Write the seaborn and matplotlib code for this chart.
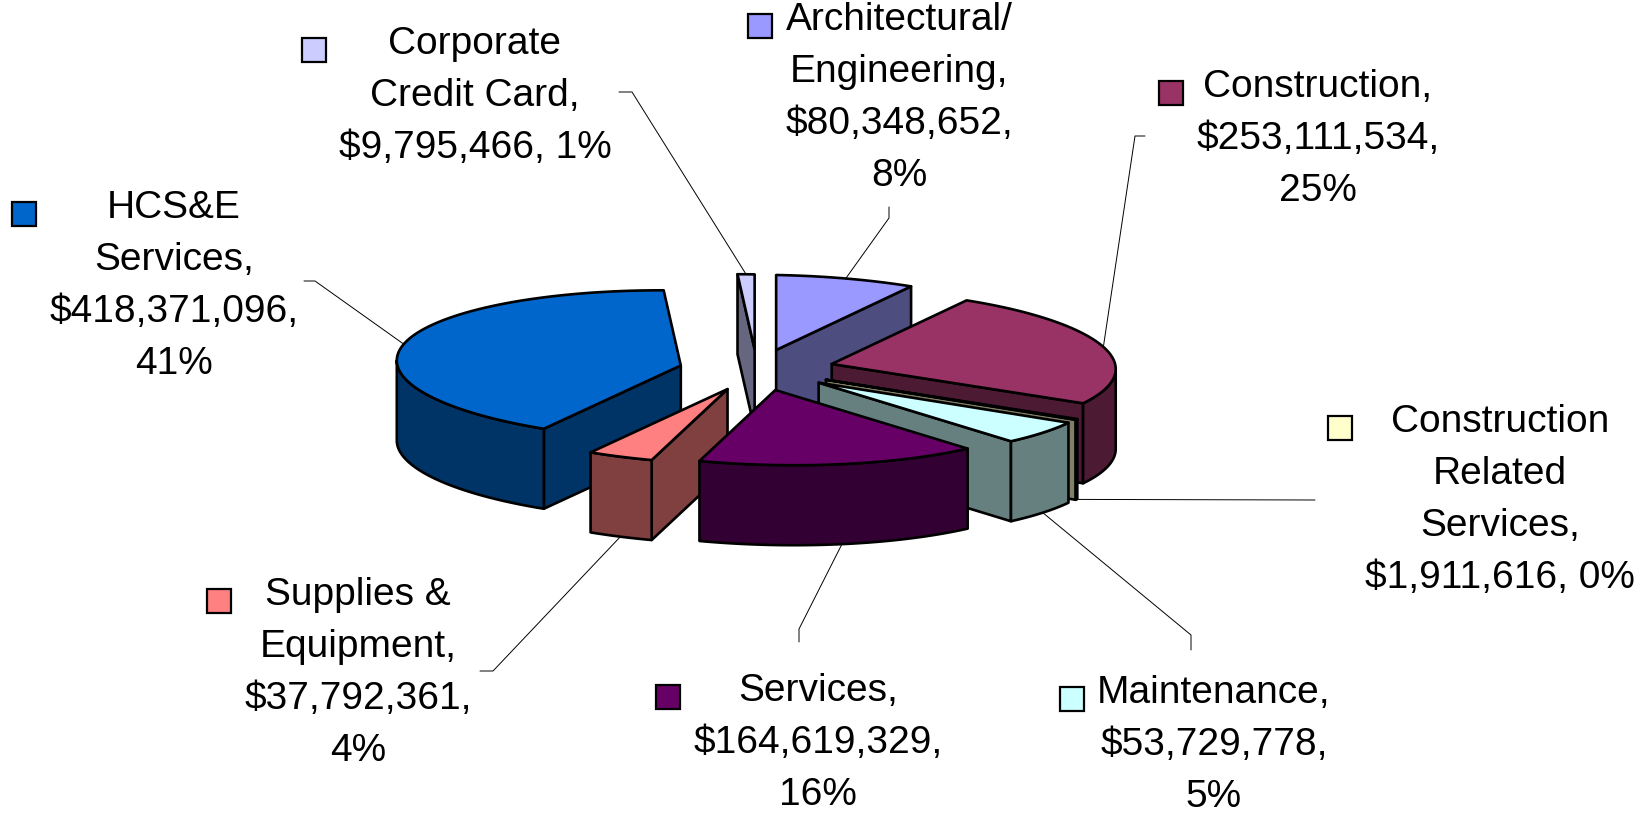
import numpy as np
import matplotlib
matplotlib.use("Agg")
import matplotlib.pyplot as plt
from matplotlib.patches import Polygon, Rectangle
import seaborn as sns

# ---------------- data ----------------
categories = ["Architectural/\nEngineering", "Construction", "Construction\nRelated\nServices",
              "Maintenance", "Services", "Supplies &\nEquipment", "HCS&E\nServices",
              "Corporate\nCredit Card"]
values = [80348652, 253111534, 1911616, 53729778, 164619329, 37792361, 418371096, 9795466]
top_colors = ["#9999FF", "#993366", "#FFFFCC", "#CCFFFF", "#660066", "#FF8080", "#0066CC", "#CCCCFF"]
side_colors = ["#4D4D80", "#4D1A33", "#808066", "#668080", "#330033", "#804040", "#003366", "#666680"]
value_sep = [",\n", ",\n", ", ", ",\n", ",\n", ",\n", ",\n", ", "]

# ---------------- layout (pixels of the 1645x817 canvas) ----------------
W, H = 1645, 817
CX, CY, RX, RY, DEPTH, EXPL, TILT = 757, 370, 284, 75, 80, 0.275, 5
label_centers = [(899, 98), (1318, 139), (1500, 500), (1214, 745), (818, 743),
                 (358, 673), (174, 286), (475, 96)]
leader_starts = [[(889, 207), (889, 218)], [(1145, 136), (1135, 136)], [(1315, 500)],
                 [(1191, 650), (1191, 635)], [(799, 642), (799, 629)],
                 [(480, 671), (493, 671)], [(304, 281), (315, 281)], [(619, 92), (632, 92)]]

sns.set_theme(style="white")
plt.rcParams["font.family"] = ["Liberation Sans", "DejaVu Sans"]

fig = plt.figure(figsize=(W / 100, H / 100), dpi=100)
ax = fig.add_axes([0, 0, 1, 1])
ax.set_xlim(0, W)
ax.set_ylim(H, 0)
ax.axis("off")

vals = np.array(values, dtype=float)
fracs = vals / vals.sum()
ends = np.cumsum(fracs) * 360.0
starts = ends - fracs * 360.0
mids = (starts + ends) / 2


def rim(ox, oy, ang, dz=0.0):
    r = np.radians(ang)
    return ox + RX * np.sin(r), oy - RY * np.cos(r) + TILT * np.sin(r) + dz


apexes = []
for i in range(len(vals)):
    m = np.radians(mids[i])
    apexes.append((CX + EXPL * RX * np.sin(m), CY - EXPL * RY * np.cos(m)))

order = np.argsort(-np.cos(np.radians(mids)))
z = 2
edge_kw = dict(edgecolor="black", linewidth=1.9, joinstyle="round")
for i in order:
    a0, a1 = starts[i], ends[i]
    ox, oy = apexes[i]
    # radial walls
    for a, vis in ((a0, np.sin(np.radians(a0)) < 0), (a1, np.sin(np.radians(a1)) > 0)):
        if vis:
            rx, ry = rim(ox, oy, a)
            poly = [(ox, oy), (rx, ry), (rx, ry + DEPTH), (ox, oy + DEPTH)]
            ax.add_patch(Polygon(poly, closed=True, facecolor=side_colors[i], zorder=z, **edge_kw))
            z += 1
    # outer wall (front part)
    lo, hi = max(a0, 90.0), min(a1, 270.0)
    if hi > lo:
        angs = np.linspace(lo, hi, max(3, int(hi - lo) + 2))
        topp = [rim(ox, oy, a) for a in angs]
        bot = [rim(ox, oy, a, DEPTH) for a in angs[::-1]]
        ax.add_patch(Polygon(topp + bot, closed=True, facecolor=side_colors[i], zorder=z, **edge_kw))
        z += 1
    # top face
    angs = np.linspace(a0, a1, max(3, int(a1 - a0) + 2))
    poly = [(ox, oy)] + [rim(ox, oy, a) for a in angs]
    ax.add_patch(Polygon(poly, closed=True, facecolor=top_colors[i], zorder=z, **edge_kw))
    z += 1

# leader lines
for i in range(len(vals)):
    ox, oy = apexes[i]
    front = -np.cos(np.radians(mids[i])) > 0
    ex, ey = rim(ox, oy, mids[i], DEPTH if front else 0.0)
    pts = leader_starts[i] + [(ex, ey)]
    xs, ys = zip(*pts)
    ax.plot(xs, ys, color="black", linewidth=0.7, zorder=1)

# labels
texts = []
for i in range(len(vals)):
    pct = int(round(fracs[i] * 100))
    lab = f"{categories[i]},\n${values[i]:,}{value_sep[i]}{pct}%"
    t = ax.text(label_centers[i][0], label_centers[i][1], lab, ha="center", va="center",
                multialignment="center", fontsize=28, linespacing=1.56, color="black",
                zorder=50)
    texts.append(t)

fig.canvas.draw()
renderer = fig.canvas.get_renderer()
inv = ax.transData.inverted()
for i, t in enumerate(texts):
    bb = t.get_window_extent(renderer)
    nl = t.get_text().count("\n") + 1
    line_h = bb.height / nl
    xr_disp = bb.x0 - 13
    yc_disp = bb.y1 - line_h / 2
    xr, yc = inv.transform((xr_disp, yc_disp))
    ax.add_patch(Rectangle((xr - 24, yc - 12), 24, 24, facecolor=top_colors[i],
                           edgecolor="black", linewidth=1.6, zorder=51))

fig.savefig("out.png", dpi=100, facecolor="white")
